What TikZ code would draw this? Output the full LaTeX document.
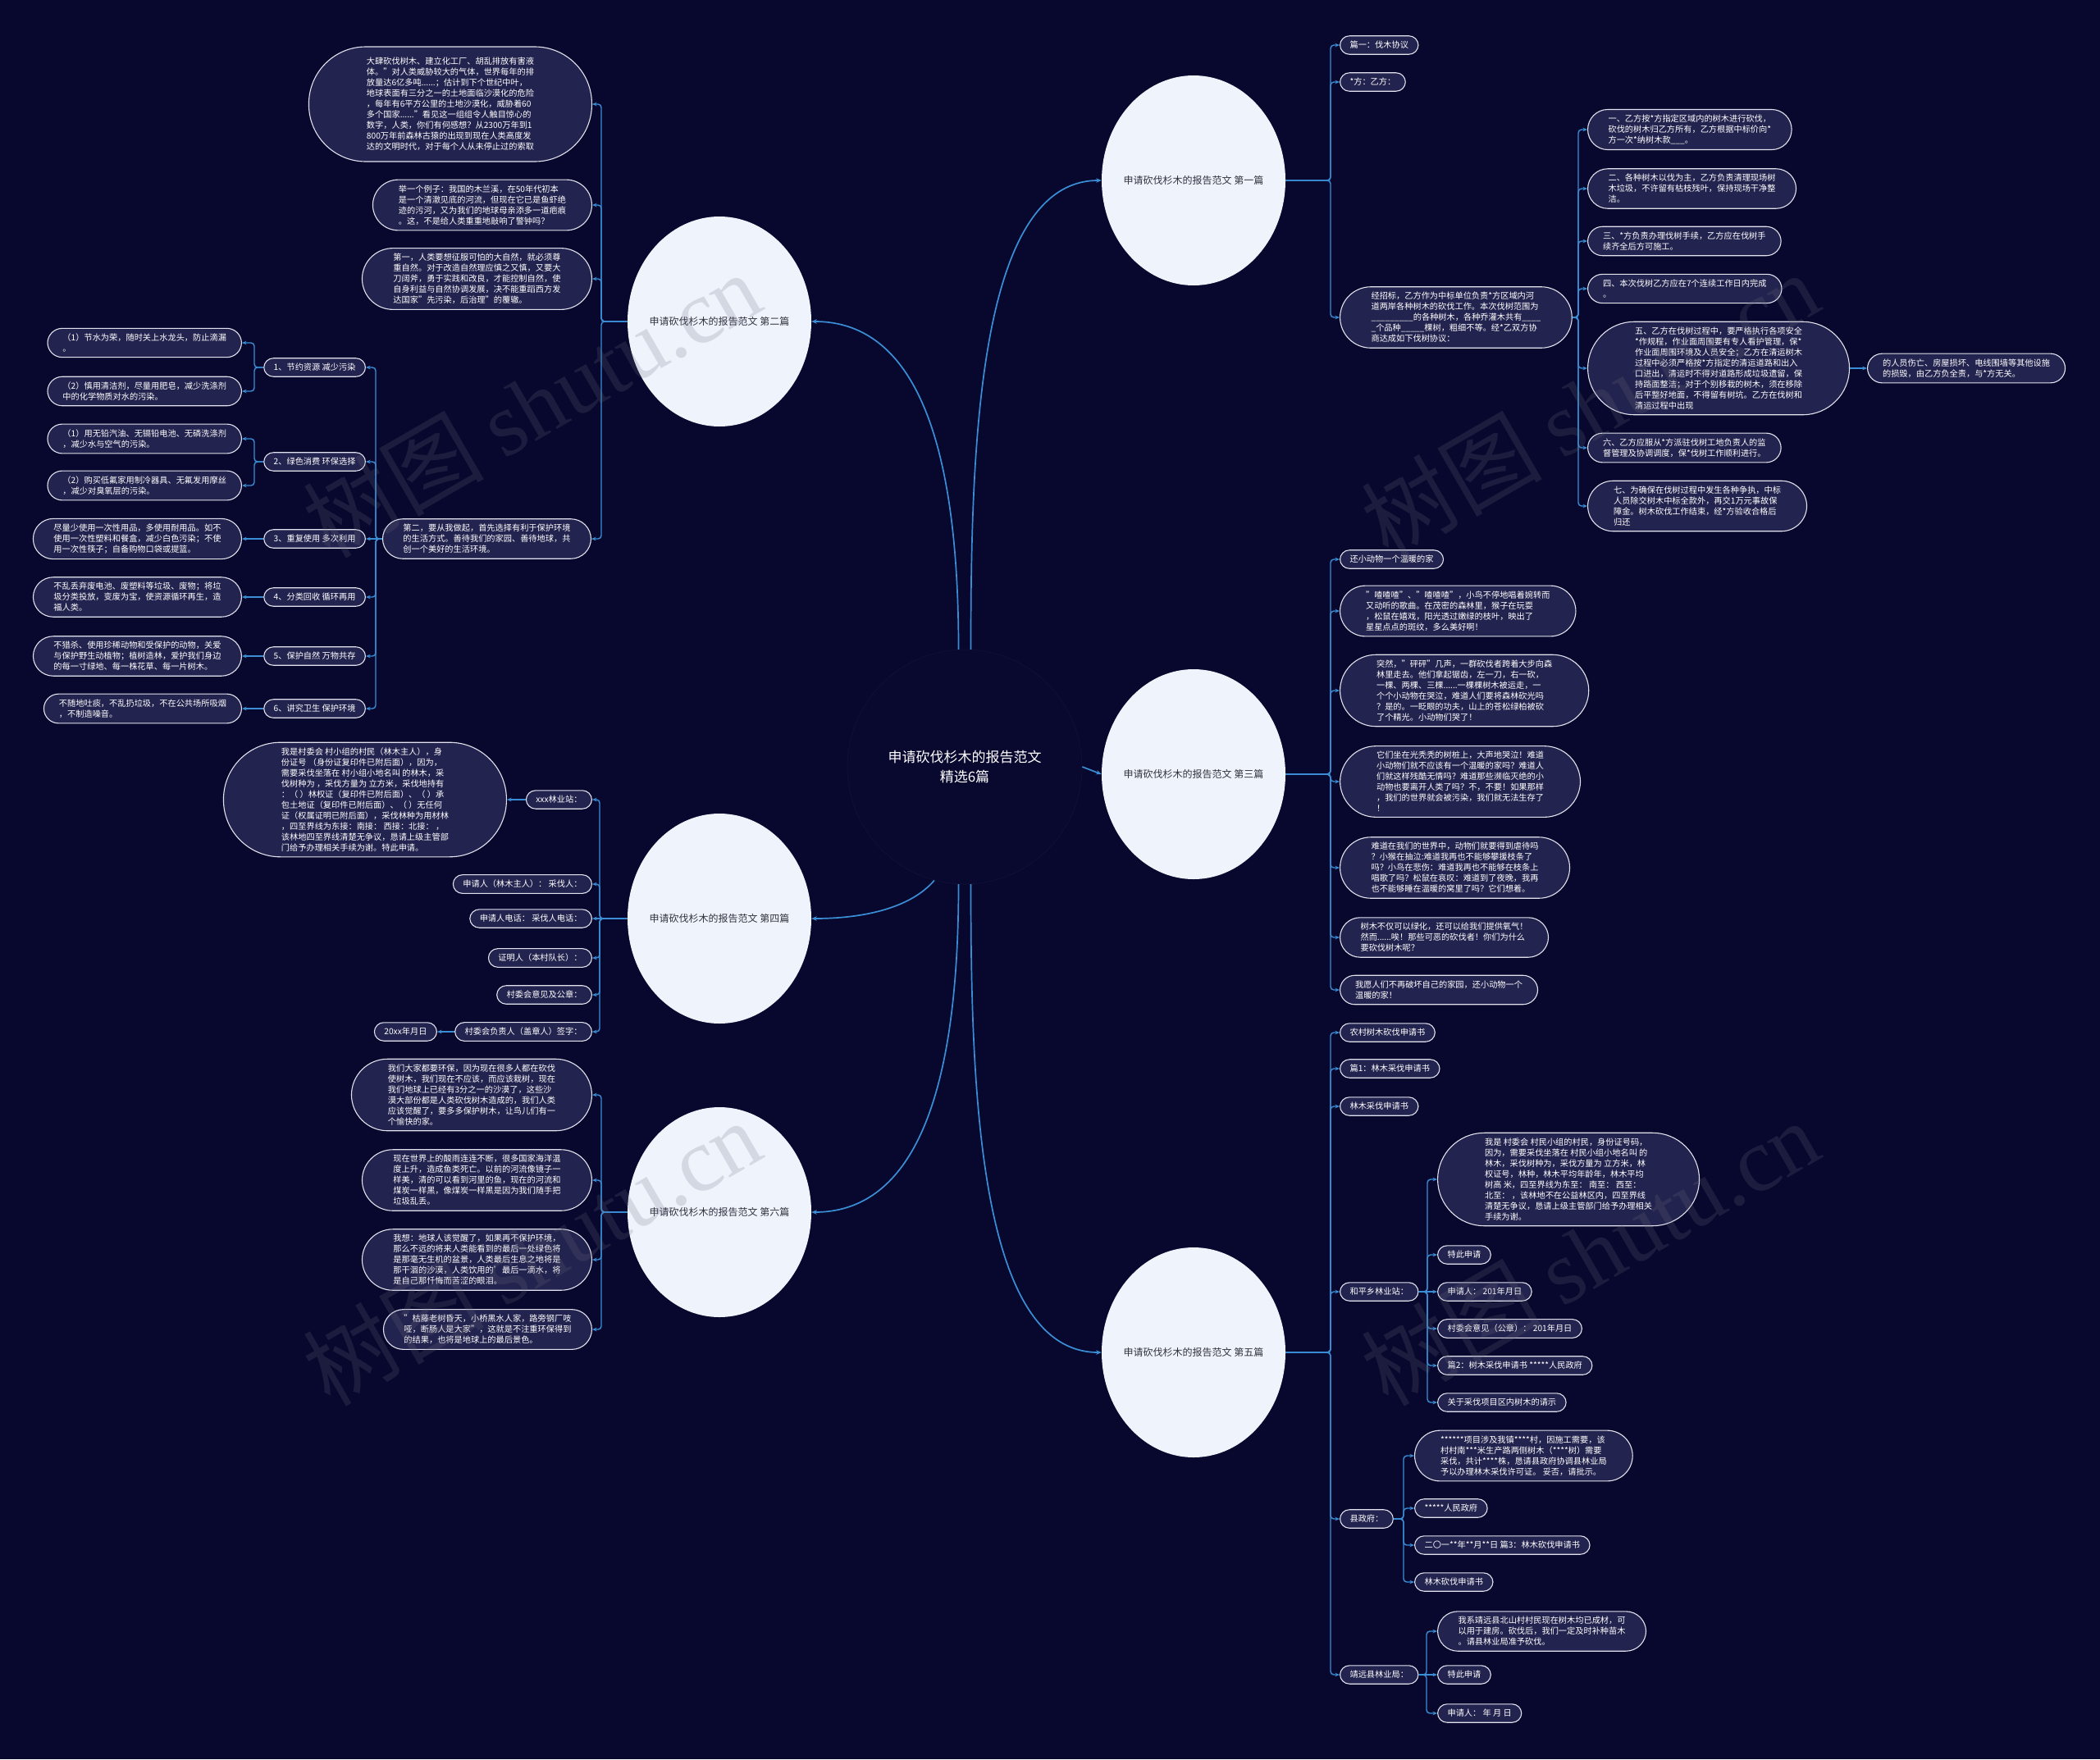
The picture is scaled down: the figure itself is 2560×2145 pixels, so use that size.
\documentclass[tikz,border=0pt]{standalone}
\usepackage{fontspec}
\setmainfont{Noto Sans CJK SC}
\newfontfamily\wmlatin{Liberation Serif}
\usetikzlibrary{shapes.geometric,arrows.meta}
\definecolor{bgc}{HTML}{08082E}
\definecolor{leaffill}{HTML}{23234F}
\definecolor{leafline}{HTML}{E2E2EE}
\definecolor{linkblue}{HTML}{3A8ED6}
\definecolor{circfill}{HTML}{EEF3FC}
\definecolor{circtext}{HTML}{333340}
\definecolor{ctrfill}{HTML}{090930}
\definecolor{ctrline}{HTML}{101036}
\definecolor{wmcol}{HTML}{6E6E80}
\tikzset{
  leaf/.style={rectangle, draw=leafline, line width=1.1pt, fill=leaffill, text=white,
    font=\fontsize{10.2pt}{13pt}\selectfont, align=left, inner ysep=6.5pt},
  ln1/.style={inner xsep=12pt, rounded corners=11.5pt},
  ln2/.style={inner xsep=18.5pt, rounded corners=18pt},
  ln3/.style={inner xsep=25pt, rounded corners=24.5pt},
  ln4/.style={inner xsep=31.5pt, rounded corners=31pt},
  ln5/.style={inner xsep=38pt, rounded corners=37.5pt},
  ln6/.style={inner xsep=44.5pt, rounded corners=44pt},
  ln8/.style={inner xsep=57.5pt, rounded corners=57pt},
  ln10/.style={inner xsep=70.5pt, rounded corners=69.5pt},
  chap/.style={ellipse, fill=circfill, minimum width=224pt, minimum height=256pt, inner sep=0pt},
  chaplabel/.style={text=circtext, inner sep=0pt, font=\fontsize{12pt}{14pt}\selectfont},
  ctrnode/.style={circle, minimum size=286pt, fill=ctrfill, draw=ctrline, line width=0.8pt,
    text=white, align=center, font=\fontsize{17pt}{24pt}\selectfont},
  lnk/.style={draw=linkblue, line width=1.4pt, rounded corners=4pt, -{Stealth[length=5.5pt,width=4.5pt]}},
  trunk/.style={draw=linkblue, line width=1.7pt, -{Stealth[length=6.5pt,width=5.5pt]}},
  wm/.style={rotate=30, text=wmcol, opacity=0.2, font=\fontsize{110pt}{110pt}\selectfont, inner sep=0pt}
}
\newcommand\linkR[3]{\draw[lnk] (#1.east) -- (#1.east -| #2) |- (#3.west);}
\newcommand\linkL[3]{\draw[lnk] (#1.west) -- (#1.west -| #2) |- (#3.east);}
\begin{document}
\begin{tikzpicture}[x=1pt,y=-1pt]
\useasboundingbox (0,0) rectangle (2560,2145);
\fill[bgc] (0,0) rectangle (2560,2145);

% bus coordinates
\coordinate (b1) at (1622,0);
\coordinate (b1c) at (1924,0);
\coordinate (b3) at (1622,0);
\coordinate (b5) at (1622,0);
\coordinate (b5d) at (1740,0);
\coordinate (b5e) at (1711,0);
\coordinate (b5f) at (1739,0);
\coordinate (b2) at (733,0);
\coordinate (b2d) at (458,0);
\coordinate (b2s) at (310,0);
\coordinate (b4) at (731,0);
\coordinate (b6) at (733,0);

% centre and chapters
\node[ctrnode] (ctr) at (1176,935) {申请砍伐杉木的报告范文\\精选6篇};
\node[chap] (ch1) at (1455,220) {};
\node[chap] (ch2) at (877,392) {};
\node[chap] (ch3) at (1455,944) {};
\node[chap] (ch4) at (877,1120) {};
\node[chap] (ch5) at (1455,1649) {};
\node[chap] (ch6) at (877,1478) {};
\node[chaplabel] (ch1t) at (ch1) {申请砍伐杉木的报告范文 第一篇};
\node[chaplabel] (ch2t) at (ch2) {申请砍伐杉木的报告范文 第二篇};
\node[chaplabel] (ch3t) at (ch3) {申请砍伐杉木的报告范文 第三篇};
\node[chaplabel] (ch4t) at (ch4) {申请砍伐杉木的报告范文 第四篇};
\node[chaplabel] (ch5t) at (ch5) {申请砍伐杉木的报告范文 第五篇};
\node[chaplabel] (ch6t) at (ch6) {申请砍伐杉木的报告范文 第六篇};

\draw[trunk] (ctr.87) .. controls +(0,-250) and +(-150,0) .. (ch1.west);
\draw[trunk] (ctr.93) .. controls +(0,-190) and +(150,0) .. (ch2.east);
\draw[trunk] (ctr.east) -- (ch3.west);
\draw[trunk] (ctr.-105) .. controls +(-30,35) and +(60,0) .. (ch4.east);
\draw[trunk] (ctr.-93) .. controls +(0,190) and +(150,0) .. (ch6.east);
\draw[trunk] (ctr.-87) .. controls +(0,250) and +(-150,0) .. (ch5.west);

% ---------- chapter 1 ----------
\node[leaf,ln1,anchor=west] (n1a) at (1633,55) {篇一：伐木协议};
\node[leaf,ln1,anchor=west] (n1b) at (1633,100) {*方：乙方：};
\node[leaf,ln5,anchor=west] (n1c) at (1633,387) {经招标，乙方作为中标单位负责*方区域内河\\道两岸各种树木的砍伐工作。本次伐树范围为\\\_\_\_\_\_\_\_\_\_的各种树木，各种乔灌木共有\_\_\_\_\\\_个品种\_\_\_\_\_棵树，粗细不等。经*乙双方协\\商达成如下伐树协议：};
\node[leaf,ln3,anchor=west] (n1c1) at (1935,158) {一、乙方按*方指定区域内的树木进行砍伐，\\砍伐的树木归乙方所有，乙方根据中标价向*\\方一次*纳树木款\_\_\_。};
\node[leaf,ln3,anchor=west] (n1c2) at (1935,230) {二、各种树木以伐为主，乙方负责清理现场树\\木垃圾，不许留有枯枝残叶，保持现场干净整\\洁。};
\node[leaf,ln2,anchor=west] (n1c3) at (1935,294) {三、*方负责办理伐树手续，乙方应在伐树手\\续齐全后方可施工。};
\node[leaf,ln2,anchor=west] (n1c4) at (1935,352) {四、本次伐树乙方应在7个连续工作日内完成\\。};
\node[leaf,ln8,anchor=west] (n1c5) at (1935,449) {五、乙方在伐树过程中，要严格执行各项安全\\{}*作规程，作业面周围要有专人看护管理，保*\\作业面周围环境及人员安全；乙方在清运树木\\过程中必须严格按*方指定的清运道路和出入\\口进出，清运时不得对道路形成垃圾遗留，保\\持路面整洁；对于个别移栽的树木，须在移除\\后平整好地面，不得留有树坑。乙方在伐树和\\清运过程中出现};
\node[leaf,ln2,anchor=west] (n1c5a) at (2276,449) {的人员伤亡、房屋损坏、电线围墙等其他设施\\的损毁，由乙方负全责，与*方无关。};
\node[leaf,ln2,anchor=west] (n1c6) at (1935,546) {六、乙方应服从*方派驻伐树工地负责人的监\\督管理及协调调度，保*伐树工作顺利进行。};
\node[leaf,ln4,anchor=west] (n1c7) at (1935,617) {七、为确保在伐树过程中发生各种争执，中标\\人员除交树木中标全款外，再交1万元事故保\\障金。树木砍伐工作结束，经*方验收合格后\\归还};
\linkR{ch1}{b1}{n1a}
\linkR{ch1}{b1}{n1b}
\linkR{ch1}{b1}{n1c}
\linkR{n1c}{b1c}{n1c1}
\linkR{n1c}{b1c}{n1c2}
\linkR{n1c}{b1c}{n1c3}
\linkR{n1c}{b1c}{n1c4}
\linkR{n1c}{b1c}{n1c5}
\linkR{n1c}{b1c}{n1c6}
\linkR{n1c}{b1c}{n1c7}
\draw[lnk] (n1c5.east) -- (n1c5a.west);

% ---------- chapter 3 ----------
\node[leaf,ln1,anchor=west] (n3a) at (1633,682) {还小动物一个温暖的家};
\node[leaf,ln4,anchor=west] (n3b) at (1633,745) {"喳喳喳"、"喳喳喳"，小鸟不停地唱着婉转而\\又动听的歌曲。在茂密的森林里，猴子在玩耍\\，松鼠在嬉戏，阳光透过嫩绿的枝叶，映出了\\星星点点的斑纹，多么美好啊！};
\node[leaf,ln6,anchor=west] (n3c) at (1633,842) {突然，"砰砰"几声，一群砍伐者跨着大步向森\\林里走去。他们拿起锯齿，左一刀，右一砍，\\一棵、两棵、三棵......一棵棵树木被运走，一\\个个小动物在哭泣，难道人们要将森林砍光吗\\？是的。一眨眼的功夫，山上的苍松绿柏被砍\\了个精光。小动物们哭了！};
\node[leaf,ln6,anchor=west] (n3d) at (1633,953) {它们坐在光秃秃的树桩上，大声地哭泣！难道\\小动物们就不应该有一个温暖的家吗？难道人\\们就这样残酷无情吗？难道那些濒临灭绝的小\\动物也要离开人类了吗？不，不要！如果那样\\，我们的世界就会被污染，我们就无法生存了\\！};
\node[leaf,ln5,anchor=west] (n3e) at (1633,1058) {难道在我们的世界中，动物们就要得到虐待吗\\？小猴在抽泣:难道我再也不能够攀援枝条了\\吗？小鸟在悲伤：难道我再也不能够在枝条上\\唱歌了吗？松鼠在哀叹：难道到了夜晚，我再\\也不能够睡在温暖的窝里了吗？它们想着。};
\node[leaf,ln3,anchor=west] (n3f) at (1633,1143) {树木不仅可以绿化，还可以给我们提供氧气！\\然而......唉！那些可恶的砍伐者！你们为什么\\要砍伐树木呢？};
\node[leaf,ln2,anchor=west] (n3g) at (1633,1207) {我愿人们不再破坏自己的家园，还小动物一个\\温暖的家！};
\linkR{ch3}{b3}{n3a}
\linkR{ch3}{b3}{n3b}
\linkR{ch3}{b3}{n3c}
\linkR{ch3}{b3}{n3d}
\linkR{ch3}{b3}{n3e}
\linkR{ch3}{b3}{n3f}
\linkR{ch3}{b3}{n3g}

% ---------- chapter 5 ----------
\node[leaf,ln1,anchor=west] (n5a) at (1633,1259) {农村树木砍伐申请书};
\node[leaf,ln1,anchor=west] (n5b) at (1633,1303) {篇1：林木采伐申请书};
\node[leaf,ln1,anchor=west] (n5c) at (1633,1349) {林木采伐申请书};
\node[leaf,ln1,anchor=west] (n5d) at (1633,1575) {和平乡林业站：};
\node[leaf,ln1,anchor=west] (n5e) at (1633,1852) {县政府：};
\node[leaf,ln1,anchor=west] (n5f) at (1633,2042) {靖远县林业局：};
\node[leaf,ln8,anchor=west] (n5d1) at (1752,1438) {我是 村委会 村民小组的村民，身份证号码，\\因为，需要采伐坐落在 村民小组小地名叫 的\\林木，采伐树种为，采伐方量为 立方米，林\\权证号，林种，林木平均年龄年，林木平均\\树高 米，四至界线为东至： 南至： 西至：\\北至： ，该林地不在公益林区内，四至界线\\清楚无争议，恳请上级主管部门给予办理相关\\手续为谢。};
\node[leaf,ln1,anchor=west] (n5d2) at (1752,1530) {特此申请};
\node[leaf,ln1,anchor=west] (n5d3) at (1752,1575) {申请人： 201年月日};
\node[leaf,ln1,anchor=west] (n5d4) at (1752,1620) {村委会意见（公章）： 201年月日};
\node[leaf,ln1,anchor=west] (n5d5) at (1752,1665) {篇2：树木采伐申请书 *****人民政府};
\node[leaf,ln1,anchor=west] (n5d6) at (1752,1710) {关于采伐项目区内树木的请示};
\node[leaf,ln4,anchor=west] (n5e1) at (1724,1775) {******项目涉及我镇****村，因施工需要，该\\村村南***米生产路两侧树木（****树）需要\\采伐，共计****株，恳请县政府协调县林业局\\予以办理林木采伐许可证。 妥否，请批示。};
\node[leaf,ln1,anchor=west] (n5e2) at (1724,1839) {*****人民政府};
\node[leaf,ln1,anchor=west] (n5e3) at (1724,1884) {二〇一**年**月**日 篇3：林木砍伐申请书};
\node[leaf,ln1,anchor=west] (n5e4) at (1724,1929) {林木砍伐申请书};
\node[leaf,ln3,anchor=west] (n5f1) at (1752,1989) {我系靖远县北山村村民现在树木均已成材，可\\以用于建房。砍伐后，我们一定及时补种苗木\\。请县林业局准予砍伐。};
\node[leaf,ln1,anchor=west] (n5f2) at (1752,2042) {特此申请};
\node[leaf,ln1,anchor=west] (n5f3) at (1752,2089) {申请人： 年 月 日};
\linkR{ch5}{b5}{n5a}
\linkR{ch5}{b5}{n5b}
\linkR{ch5}{b5}{n5c}
\linkR{ch5}{b5}{n5d}
\linkR{ch5}{b5}{n5e}
\linkR{ch5}{b5}{n5f}
\linkR{n5d}{b5d}{n5d1}
\linkR{n5d}{b5d}{n5d2}
\draw[lnk] (n5d.east) -- (n5d3.west);
\linkR{n5d}{b5d}{n5d4}
\linkR{n5d}{b5d}{n5d5}
\linkR{n5d}{b5d}{n5d6}
\linkR{n5e}{b5e}{n5e1}
\linkR{n5e}{b5e}{n5e2}
\linkR{n5e}{b5e}{n5e3}
\linkR{n5e}{b5e}{n5e4}
\linkR{n5f}{b5f}{n5f1}
\draw[lnk] (n5f.east) -- (n5f2.west);
\linkR{n5f}{b5f}{n5f3}

% ---------- chapter 2 ----------
\node[leaf,ln10,minimum height=140pt,anchor=east] (n2a) at (722,127) {大肆砍伐树木、建立化工厂、胡乱排放有害液\\体。"对人类威胁较大的气体，世界每年的排\\放量达6亿多吨......；估计到下个世纪中叶，\\地球表面有三分之一的土地面临沙漠化的危险\\，每年有6平方公里的土地沙漠化，威胁着60\\多个国家......"看见这一组组令人触目惊心的\\数字，人类，你们有何感想？从2300万年到1\\800万年前森林古猿的出现到现在人类高度发\\达的文明时代，对于每个人从未停止过的索取};
\node[leaf,ln4,anchor=east] (n2b) at (722,250) {举一个例子：我国的木兰溪，在50年代初本\\是一个清澈见底的河流，但现在它已是鱼虾绝\\迹的污河，又为我们的地球母亲添多一道疤痕\\。这，不是给人类重重地敲响了警钟吗？};
\node[leaf,ln5,anchor=east] (n2c) at (722,340) {第一，人类要想征服可怕的大自然，就必须尊\\重自然。对于改造自然理应慎之又慎，又要大\\刀阔斧，勇于实践和改良，才能控制自然，使\\自身利益与自然协调发展，决不能重蹈西方发\\达国家"先污染，后治理"的覆辙。};
\node[leaf,ln3,anchor=east] (n2d) at (721,657) {第二，要从我做起，首先选择有利于保护环境\\的生活方式。善待我们的家园、善待地球，共\\创一个美好的生活环境。};
\node[leaf,ln1,anchor=east] (s1) at (446,448) {1、节约资源 减少污染};
\node[leaf,ln1,anchor=east] (s2) at (446,563) {2、绿色消费 环保选择};
\node[leaf,ln1,anchor=east] (s3) at (446,657) {3、重复使用 多次利用};
\node[leaf,ln1,anchor=east] (s4) at (446,728) {4、分类回收 循环再用};
\node[leaf,ln1,anchor=east] (s5) at (446,800) {5、保护自然 万物共存};
\node[leaf,ln1,anchor=east] (s6) at (446,864) {6、讲究卫生 保护环境};
\node[leaf,ln2,anchor=east] (s1a) at (295,418) {（1）节水为荣，随时关上水龙头，防止滴漏\\。};
\node[leaf,ln2,anchor=east] (s1b) at (295,477) {（2）慎用清洁剂，尽量用肥皂，减少洗涤剂\\中的化学物质对水的污染。};
\node[leaf,ln2,anchor=east] (s2a) at (295,535) {（1）用无铅汽油、无镉铅电池、无磷洗涤剂\\，减少水与空气的污染。};
\node[leaf,ln2,anchor=east] (s2b) at (295,592) {（2）购买低氟家用制冷器具、无氟发用摩丝\\，减少对臭氧层的污染。};
\node[leaf,ln3,anchor=east] (s3a) at (295,657) {尽量少使用一次性用品，多使用耐用品。如不\\使用一次性塑料和餐盒，减少白色污染；不使\\用一次性筷子；自备购物口袋或提篮。};
\node[leaf,ln3,anchor=east] (s4a) at (295,728) {不乱丢弃废电池、废塑料等垃圾、废物；将垃\\圾分类投放，变废为宝，使资源循环再生，造\\福人类。};
\node[leaf,ln3,anchor=east] (s5a) at (295,800) {不猎杀、使用珍稀动物和受保护的动物，关爱\\与保护野生动植物；植树造林，爱护我们身边\\的每一寸绿地、每一株花草、每一片树木。};
\node[leaf,ln2,anchor=east] (s6a) at (295,864) {不随地吐痰，不乱扔垃圾，不在公共场所吸烟\\，不制造噪音。};
\linkL{ch2}{b2}{n2a}
\linkL{ch2}{b2}{n2b}
\linkL{ch2}{b2}{n2c}
\linkL{ch2}{b2}{n2d}
\linkL{n2d}{b2d}{s1}
\linkL{n2d}{b2d}{s2}
\draw[lnk] (n2d.west) -- (s3.east);
\linkL{n2d}{b2d}{s4}
\linkL{n2d}{b2d}{s5}
\linkL{n2d}{b2d}{s6}
\linkL{s1}{b2s}{s1a}
\linkL{s1}{b2s}{s1b}
\linkL{s2}{b2s}{s2a}
\linkL{s2}{b2s}{s2b}
\draw[lnk] (s3.west) -- (s3a.east);
\draw[lnk] (s4.west) -- (s4a.east);
\draw[lnk] (s5.west) -- (s5a.east);
\draw[lnk] (s6.west) -- (s6a.east);

% ---------- chapter 4 ----------
\node[leaf,ln1,anchor=east] (n4a) at (722,975) {xxx林业站：};
\node[leaf,ln10,anchor=east] (n4big) at (618,975) {我是村委会 村小组的村民（林木主人），身\\份证号 （身份证复印件已附后面），因为，\\需要采伐坐落在 村小组小地名叫 的林木，采\\伐树种为 ，采伐方量为 立方米，采伐地持有\\：（ ）林权证（复印件已附后面）、（ ）承\\包土地证（复印件已附后面）、（ ）无任何\\证（权属证明已附后面），采伐林种为用材林\\，四至界线为东接：南接： 西接：北接： ，\\该林地四至界线清楚无争议，恳请上级主管部\\门给予办理相关手续为谢。特此申请。};
\node[leaf,ln1,anchor=east] (n4b) at (722,1078) {申请人（林木主人）： 采伐人：};
\node[leaf,ln1,anchor=east] (n4c) at (722,1120) {申请人电话： 采伐人电话：};
\node[leaf,ln1,anchor=east] (n4d) at (722,1168) {证明人（本村队长）：};
\node[leaf,ln1,anchor=east] (n4e) at (722,1213) {村委会意见及公章：};
\node[leaf,ln1,anchor=east] (n4f) at (722,1258) {村委会负责人（盖章人）签字：};
\node[leaf,ln1,anchor=east] (n4g) at (533,1258) {20xx年月日};
\linkL{ch4}{b4}{n4a}
\linkL{ch4}{b4}{n4b}
\draw[lnk] (ch4.west) -- (n4c.east);
\linkL{ch4}{b4}{n4d}
\linkL{ch4}{b4}{n4e}
\linkL{ch4}{b4}{n4f}
\draw[lnk] (n4a.west) -- (n4big.east);
\draw[lnk] (n4f.west) -- (n4g.east);

% ---------- chapter 6 ----------
\node[leaf,ln6,anchor=east] (n6a) at (722,1335) {我们大家都要环保，因为现在很多人都在砍伐\\使树木，我们现在不应该，而应该栽树，现在\\我们地球上已经有3分之一的沙漠了，这些沙\\漠大部份都是人类砍伐树木造成的，我们人类\\应该觉醒了，要多多保护树木，让鸟儿们有一\\个愉快的家。};
\node[leaf,ln5,anchor=east] (n6b) at (722,1439) {现在世界上的酸雨连连不断，很多国家海洋温\\度上升，造成鱼类死亡。以前的河流像镜子一\\样美，清的可以看到河里的鱼，现在的河流和\\煤炭一样黑，像煤炭一样黑是因为我们随手把\\垃圾乱丢。};
\node[leaf,ln5,anchor=east] (n6c) at (722,1536) {我想：地球人该觉醒了，如果再不保护环境，\\那么不远的将来人类能看到的最后一处绿色将\\是那毫无生机的盆景，人类最后生息之地将是\\那干涸的沙漠，人类饮用的'最后一滴水，将\\是自己那忏悔而苦涩的眼泪。};
\node[leaf,ln3,anchor=east] (n6d) at (722,1621) {"枯藤老树昏天，小桥黑水人家，路旁钢厂吱\\哑，断肠人是大家"，这就是不注重环保得到\\的结果，也将是地球上的最后景色。};
\linkL{ch6}{b6}{n6a}
\linkL{ch6}{b6}{n6b}
\linkL{ch6}{b6}{n6c}
\linkL{ch6}{b6}{n6d}

% ---------- watermarks ----------
\node[wm] (wm1) at (648,493) {树图 {\wmlatin shutu.cn}};
\node[wm] (wm2) at (1938,493) {树图 {\wmlatin shutu.cn}};
\node[wm] (wm3) at (648,1527) {树图 {\wmlatin shutu.cn}};
\node[wm] (wm4) at (1938,1527) {树图 {\wmlatin shutu.cn}};
\end{tikzpicture}
\end{document}
